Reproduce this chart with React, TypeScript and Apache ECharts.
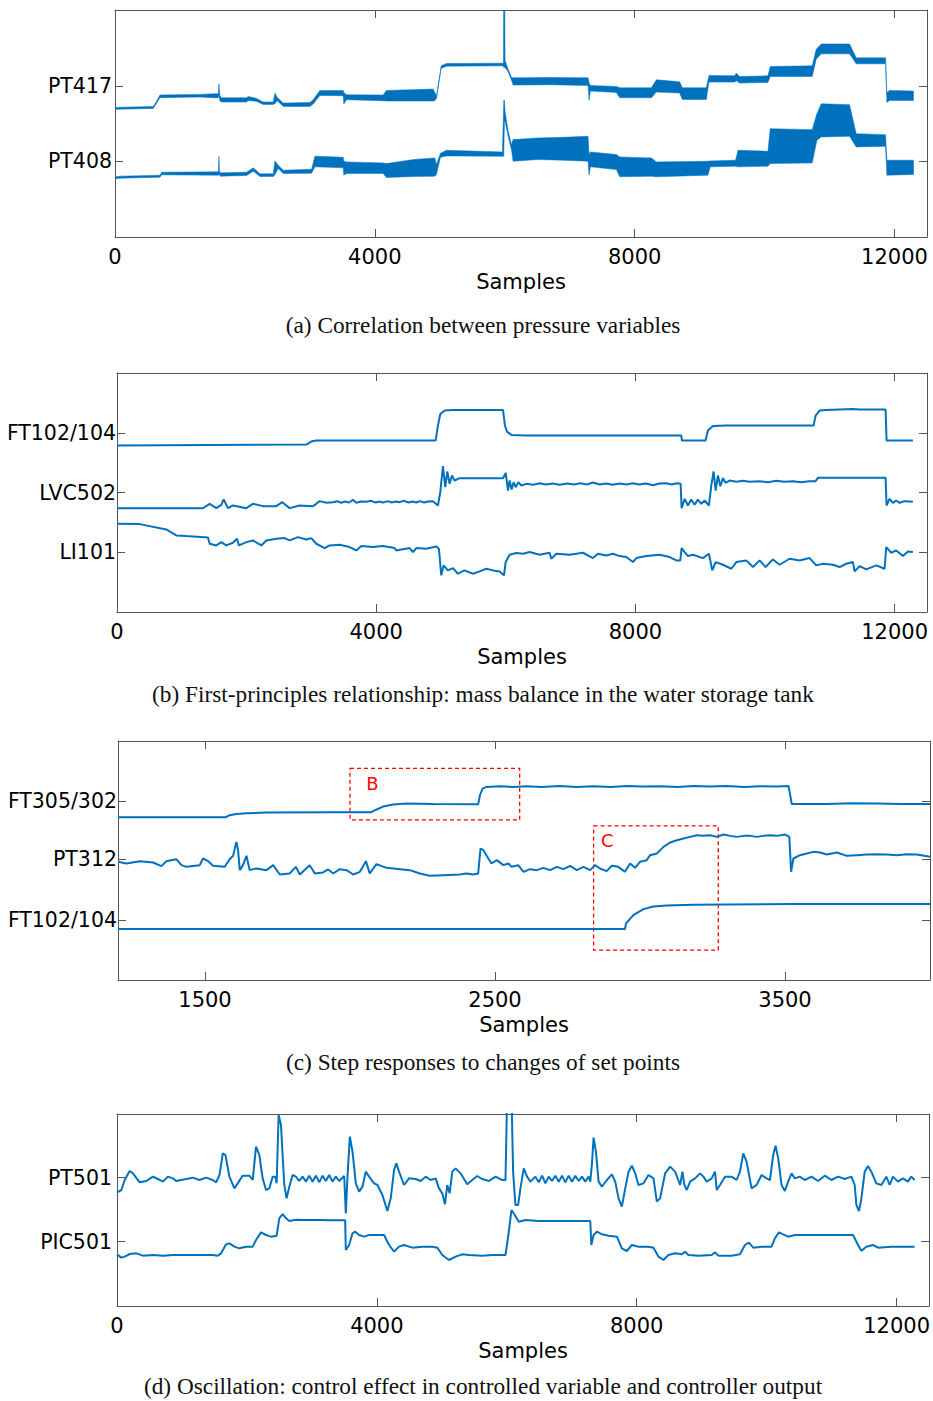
import React, { useEffect, useRef } from "react";
import * as echarts from "echarts";

// ---------------- data (x = sample index, y = signal level, arbitrary units) ----------------
const FULL_TICKS = [0, 4000, 8000, 12000];
const C_TICKS = [1500, 2500, 3500];

// Panel (a): noisy pressures as envelopes [sample, low, high] around each series' level
const A_NAMES = ["PT408", "PT417"];
const A_LEVELS = [0, 227];
const PT417_BAND = [
  [0, -71, -65], [590, -68, -62], [641, -52, -46], [692, -36, -28], [897, -35, -27], [1308, -34, -26],
  [1513, -36, -24], [1590, -36, -24], [1600, -30, 6], [1615, -45, -30], [1640, -49, -36], [2026, -49, -36],
  [2051, -44, -32], [2179, -47, -38], [2282, -56, -49], [2436, -56, -49], [2462, -54, -22], [2497, -45, -35],
  [2590, -62, -52], [3000, -62, -50], [3051, -55, -42], [3154, -29, -14], [3513, -30, -14], [3523, -55, -20],
  [3564, -42, -27], [4128, -45, -28], [4179, -46, -14], [4897, -46, -10], [4923, -45, -20], [4949, -38, -30],
  [5021, 52, 60], [5103, 59, 67], [5964, 60, 68], [5980, 58, 68], [5985, 55, 455], [5995, 55, 455],
  [6005, 55, 75], [6052, 42, 50], [6103, 17, 25], [6128, 2, 24], [6700, 3, 25], [7282, 1, 24],
  [7298, -44, 10], [7318, -16, 1], [7718, -20, -2], [7770, -36, -6], [8257, -36, -6], [8334, -19, 18],
  [8692, -22, 12], [8734, -41, -6], [9103, -41, -6], [9144, 11, 31], [9539, 11, 30], [9564, 15, 38],
  [9616, 8, 28], [10051, 10, 30], [10087, 28, 58], [10733, 28, 60], [10795, 80, 110], [10872, 96, 126],
  [11308, 96, 126], [11410, 66, 84], [11862, 66, 84], [11882, -50, -20], [11923, -44, -14], [12292, -44, -16],
];
const PT408_BAND = [
  [0, -53, -47], [77, -51, -45], [692, -48, -42], [718, -41, -33], [1564, -42, -32], [1592, -42, -32],
  [1600, -40, 15], [1608, -42, -30], [1626, -45, -35], [2026, -43, -33], [2128, -30, -20], [2231, -46, -38],
  [2436, -46, -38], [2462, -40, 1], [2513, -22, -12], [2590, -37, -27], [3026, -36, -24], [3077, -17, 15],
  [3513, -20, 12], [3523, -42, 0], [3564, -37, -2], [4128, -37, -5], [4179, -49, -7], [4600, -46, 5],
  [4923, -45, 10], [4949, -40, -10], [5010, 12, 24], [5103, 16, 33], [5964, 15, 28], [5985, 15, 183],
  [5995, 120, 183], [6005, 120, 150], [6052, 75, 90], [6103, 35, 50], [6128, 0, 65], [6500, 5, 70],
  [6900, 3, 72], [7282, 0, 75], [7298, -42, 20], [7318, -17, 28], [7718, -25, 20], [7770, -47, 13],
  [8257, -45, 10], [8334, -47, -2], [9128, -42, 0], [9164, -17, 1], [9554, -15, 3], [9590, -17, 33],
  [10051, -15, 30], [10087, -7, 98], [10733, -5, 95], [10805, 63, 143], [10872, 73, 173], [11308, 75, 170],
  [11410, 43, 83], [11862, 45, 80], [11882, -42, 3], [12292, -40, 3],
];

// Panel (b): mass balance
const B_NAMES = ["LI101", "LVC502", "FT102/104"];
const B_LEVELS = [0, 179, 357];
const B_FT102_104 = [
  [0, -37], [2921, -34], [2998, -25], [3075, -22], [4917, -22], [4953, 23], [4989, 58], [5056, 68],
  [5184, 70], [5957, 70], [5987, 23], [6018, 5], [6085, -5], [6317, -7], [7345, -7], [8708, -7],
  [8718, -22], [9083, -22], [9119, 8], [9197, 22], [9402, 23], [10750, 23], [10781, 53], [10843, 68],
  [10946, 70], [11357, 73], [11460, 71], [11861, 71], [11876, -22], [12282, -22],
];
const B_LVC502 = [
  [0, -47], [1327, -47], [1430, -34], [1533, -47], [1610, -37], [1646, -21], [1713, -47], [1790, -39],
  [1995, -47], [2098, -34], [2253, -41], [2458, -41], [2551, -29], [2664, -47], [2818, -39], [3024, -41],
  [3075, -34], [3127, -26], [3230, -31], [3333, -29], [3400, -26], [3460, -31], [3520, -27], [3580, -30],
  [3641, -22], [3693, -31], [3760, -27], [3847, -28], [3920, -25], [3990, -30], [4050, -27], [4104, -30],
  [4180, -26], [4240, -30], [4300, -27], [4361, -29], [4430, -25], [4500, -30], [4560, -27], [4620, -30],
  [4670, -26], [4740, -30], [4800, -27], [4876, -26], [4953, -39], [4989, 1], [5030, 79], [5066, 16],
  [5097, 63], [5133, 26], [5169, 51], [5210, 36], [5287, 43], [5957, 43], [5998, 59], [6034, 6],
  [6059, 36], [6090, 9], [6121, 31], [6152, 16], [6193, 31], [6239, 21], [6317, 26], [6420, 23],
  [6520, 28], [6620, 24], [6720, 27], [6831, 23], [6950, 27], [7050, 24], [7150, 28], [7250, 24],
  [7345, 30], [7450, 24], [7550, 27], [7650, 23], [7760, 27], [7860, 24], [7960, 28], [8060, 24],
  [8160, 27], [8271, 22], [8370, 27], [8477, 28], [8560, 24], [8640, 28], [8698, 26], [8713, -47],
  [8760, -19], [8811, -39], [8862, -21], [8914, -37], [8965, -21], [9017, -34], [9068, -24], [9135, -39],
  [9171, 21], [9207, 63], [9238, 6], [9274, 51], [9310, 19], [9351, 43], [9392, 29], [9454, 36],
  [9560, 32], [9660, 35], [9760, 32], [9917, 34], [10050, 31], [10170, 35], [10300, 32], [10431, 34],
  [10560, 31], [10680, 34], [10781, 34], [10817, 44], [11460, 44], [11861, 44], [11876, -39], [11922, -19],
  [11974, -31], [12025, -24], [12077, -31], [12154, -26], [12282, -28],
];
const B_LI101 = [
  [0, 85], [350, 84], [761, 68], [915, 50], [1070, 48], [1404, 44], [1430, 25], [1533, 20], [1610, 30],
  [1687, 20], [1790, 28], [1851, 40], [1882, 20], [1995, 30], [2098, 35], [2227, 20], [2304, 35], [2458, 40],
  [2587, 42], [2664, 35], [2793, 45], [2921, 38], [2998, 42], [3075, 25], [3204, 12], [3281, 20], [3436, 22],
  [3590, 15], [3693, 5], [3770, 18], [3950, 15], [4104, 18], [4284, 12], [4310, 5], [4515, 12], [4567, 0],
  [4618, 12], [4773, 10], [4927, 17], [4968, 10], [5004, -70], [5040, -40], [5107, -55], [5184, -48],
  [5261, -65], [5364, -55], [5493, -65], [5597, -58], [5699, -50], [5802, -55], [5905, -58], [5972, -70],
  [5998, -30], [6059, -8], [6162, -3], [6265, -5], [6368, 0], [6522, -8], [6677, -2], [6702, -20], [6780, -5],
  [6985, -8], [7191, -2], [7345, -18], [7422, -5], [7551, -10], [7654, -5], [7757, -12], [7860, -15],
  [7962, -30], [8014, -18], [8168, -12], [8374, -8], [8528, -15], [8631, -25], [8693, -25], [8713, 12],
  [8760, 0], [8811, -12], [8888, -8], [9042, -18], [9135, -5], [9186, -55], [9238, -30], [9351, -38],
  [9480, -50], [9557, -30], [9711, -25], [9814, -45], [9917, -25], [10009, -45], [10122, -22], [10225, -38],
  [10379, -20], [10534, -25], [10688, -18], [10791, -40], [10894, -35], [11048, -38], [11151, -45],
  [11254, -35], [11357, -30], [11383, -58], [11460, -42], [11563, -52], [11717, -40], [11845, -50],
  [11871, 15], [11948, -2], [12025, 5], [12128, -12], [12206, 2], [12282, 0],
];

// Panel (c): step responses
const C_NAMES = ["FT102/104", "PT312", "FT305/302"];
const C_LEVELS = [0, 183, 358];
const C_FT305_302 = [
  [1200, -49], [1572, -49], [1585, -43], [1608, -39], [1643, -37], [1712, -35], [1942, -34], [2074, -34],
  [2086, -28], [2114, -17], [2149, -11], [2195, -8], [2287, -9], [2442, -10], [2448, 17], [2457, 37],
  [2471, 42], [2517, 44], [2560, 42], [2609, 44], [2660, 42], [2724, 45], [2780, 42], [2839, 44],
  [2900, 42], [2954, 45], [3010, 43], [3069, 44], [3130, 42], [3184, 45], [3240, 43], [3299, 45],
  [3360, 42], [3414, 44], [3470, 43], [3512, 45], [3518, 17], [3523, -9], [3644, -9], [3730, -7],
  [3817, -8], [3900, -9], [4000, -9],
];
const C_PT312 = [
  [1200, -8], [1229, -13], [1275, -6], [1321, -10], [1350, -21], [1367, -6], [1401, 0], [1419, -18],
  [1436, -23], [1482, -18], [1493, 2], [1511, -6], [1528, -20], [1568, -23], [1585, 0], [1597, 10],
  [1608, 52], [1614, 27], [1620, -33], [1631, -18], [1643, 10], [1654, -33], [1677, -28], [1712, -33],
  [1735, -18], [1758, -46], [1792, -43], [1813, -23], [1827, -46], [1861, -18], [1879, -43], [1907, -40],
  [1925, -31], [1942, -43], [1965, -30], [1988, -33], [2011, -46], [2034, -38], [2055, -6], [2068, -43],
  [2091, -15], [2126, -26], [2172, -30], [2206, -33], [2241, -43], [2275, -50], [2321, -48], [2379, -46],
  [2402, -43], [2425, -46], [2442, -43], [2450, 32], [2460, 27], [2477, 2], [2488, -13], [2506, -3],
  [2529, -18], [2546, -13], [2557, -23], [2580, -18], [2598, -38], [2621, -30], [2644, -33], [2667, -26],
  [2690, -33], [2713, -23], [2736, -30], [2759, -20], [2782, -33], [2805, -23], [2828, -33], [2845, -18],
  [2862, -28], [2885, -36], [2902, -20], [2925, -23], [2948, -38], [2966, -13], [2983, -26], [3000, -8],
  [3023, -3], [3035, 12], [3058, 17], [3081, 37], [3104, 50], [3127, 57], [3150, 62], [3173, 67],
  [3196, 72], [3219, 70], [3242, 72], [3265, 67], [3288, 74], [3311, 70], [3334, 67], [3357, 70],
  [3380, 70], [3403, 67], [3426, 70], [3449, 72], [3472, 70], [3500, 74], [3515, 67], [3521, -38],
  [3529, 2], [3552, 12], [3575, 17], [3598, 22], [3621, 20], [3644, 14], [3679, 20], [3713, 10],
  [3748, 12], [3782, 14], [3817, 15], [3851, 14], [3886, 12], [3920, 15], [3955, 14], [4000, 7],
];
const C_FT102_104 = [
  [1200, -27], [2948, -27], [2952, -10], [2977, 15], [3012, 33], [3046, 41], [3092, 44], [3184, 46],
  [3529, 48], [4000, 48],
];
const C_BOX_NAMES = ["B", "C"];
const C_BOX_X = [[2000, 2585], [2840, 3270]];
const C_BOX_Y = [[301, 456], [-90, 283]];

// Panel (d): oscillation
const D_NAMES = ["PIC501", "PT501"];
const D_LEVELS = [0, 192];
const D_PT501 = [
  [0, -44], [67, -37], [118, -7], [195, 20], [246, 13], [348, -14], [451, -10], [553, 3], [630, -4],
  [707, -12], [783, 3], [860, -2], [911, -10], [1065, -4], [1167, 0], [1270, -7], [1372, 0], [1474, -7],
  [1526, -14], [1577, 8], [1602, 38], [1628, 73], [1669, 68], [1730, 3], [1807, -32], [1858, -17],
  [1935, 6], [2038, 6], [2089, -7], [2140, 93], [2191, 68], [2242, -2], [2294, -37], [2345, -32],
  [2396, 3], [2437, 3], [2457, -17], [2488, 188], [2524, 158], [2575, -22], [2611, -62], [2652, -27],
  [2703, 8], [2754, 3], [2805, -10], [2857, 3], [2908, -12], [2959, 6], [3010, -12], [3061, 6],
  [3113, -14], [3164, 6], [3215, -10], [3266, 8], [3317, -12], [3369, 3], [3420, -10], [3497, 5],
  [3522, -107], [3548, 3], [3584, 123], [3625, 78], [3676, -17], [3727, -42], [3778, -27], [3829, 18],
  [3881, 3], [3957, -17], [4009, -22], [4085, -52], [4162, -100], [4213, -62], [4265, 23], [4300, 43],
  [4341, 18], [4418, -22], [4495, -2], [4597, -4], [4674, -10], [4751, 3], [4828, -7], [4905, -2],
  [4956, -32], [5007, -47], [5048, -80], [5084, -22], [5120, -47], [5161, 18], [5212, 28], [5288, 13],
  [5391, -20], [5468, -7], [5545, 5], [5621, -4], [5724, -10], [5826, 3], [5929, -7], [5980, -7],
  [6005, 250], [6072, 250], [6097, 18], [6133, -82], [6174, -82], [6210, -32], [6261, 28], [6312, 3],
  [6364, -12], [6440, 3], [6492, -14], [6543, 6], [6594, -17], [6645, 3], [6696, -10], [6748, 6],
  [6799, -12], [6850, 6], [6901, -14], [6952, 6], [7004, -12], [7055, 6], [7106, -10], [7157, 3],
  [7208, -12], [7260, 3], [7285, -12], [7311, 43], [7336, 120], [7372, 78], [7413, -12], [7464, -27],
  [7541, -7], [7618, 10], [7669, -12], [7720, -62], [7771, -87], [7823, -32], [7874, 18], [7925, 36],
  [7976, 13], [8027, -22], [8104, -17], [8181, 8], [8258, -2], [8309, -72], [8360, -62], [8437, 13],
  [8514, 33], [8591, 18], [8668, -22], [8703, 18], [8734, -22], [8770, -37], [8821, -12], [8898, -2],
  [8975, 13], [9026, 3], [9077, -12], [9154, -2], [9205, 18], [9231, -37], [9282, -22], [9359, 3],
  [9461, 3], [9538, -7], [9589, 18], [9640, 73], [9691, 48], [9768, -32], [9845, -22], [9922, 8],
  [9998, -2], [10050, -7], [10101, 68], [10137, 96], [10178, 58], [10229, -22], [10280, -40], [10331, -12],
  [10383, 13], [10434, -2], [10510, 3], [10587, -7], [10690, 3], [10792, -10], [10894, 6], [10997, -7],
  [11099, 3], [11201, -4], [11304, 3], [11355, -22], [11381, -82], [11422, -100], [11458, -62], [11509, 18],
  [11560, 35], [11611, 18], [11688, -17], [11765, -22], [11842, 3], [11893, -22], [11944, 3], [12021, -12],
  [12098, -2], [12174, -12], [12226, 3], [12277, -7],
];
const D_PIC501 = [
  [0, -38], [67, -48], [118, -45], [195, -37], [297, -35], [399, -42], [553, -40], [707, -42], [860, -40],
  [1270, -40], [1474, -40], [1551, -42], [1602, -35], [1679, -8], [1730, -5], [1807, -15], [1884, -20],
  [1986, -15], [2089, -15], [2140, 5], [2217, 28], [2294, 20], [2370, 15], [2457, 18], [2498, 70],
  [2550, 83], [2601, 70], [2652, 62], [2754, 66], [2908, 65], [3113, 65], [3317, 64], [3512, 64],
  [3522, -25], [3573, -10], [3625, 25], [3666, 30], [3727, 20], [3804, 15], [3881, 20], [4111, 20],
  [4188, -10], [4265, -30], [4341, -15], [4418, -10], [4546, -18], [4700, -15], [4853, -15], [4930, -18],
  [5007, -40], [5109, -55], [5212, -45], [5314, -38], [5416, -40], [5621, -42], [5775, -40], [5980, -40],
  [6031, 30], [6072, 95], [6123, 80], [6184, 60], [6287, 65], [6492, 62], [6799, 62], [7055, 62],
  [7285, 62], [7301, -10], [7336, 20], [7388, 30], [7464, 22], [7567, 18], [7695, 15], [7771, -20],
  [7848, -28], [7925, -10], [8027, -15], [8181, -15], [8258, -18], [8335, -45], [8411, -55], [8488, -40],
  [8591, -35], [8693, -38], [8744, -30], [8795, -40], [8949, -42], [9154, -40], [9205, -32], [9256, -42],
  [9461, -42], [9589, -38], [9666, -10], [9727, -3], [9794, -18], [9922, -15], [10075, -15], [10126, 10],
  [10188, 28], [10255, 22], [10331, 15], [10434, 20], [10894, 20], [11330, 20], [11406, -10], [11458, -27],
  [11535, -15], [11637, -10], [11714, -18], [11918, -15], [12123, -15], [12277, -15],
];

const CAPTIONS = [
  "(a)\u00a0Correlation between pressure variables",
  "(b)\u00a0First-principles relationship: mass balance in the water storage tank",
  "(c)\u00a0Step responses to changes of set points",
  "(d)\u00a0Oscillation: control effect in controlled variable and controller output",
];

// ---------------- styling / layout ----------------
const BLUE = "#0072BD";
const FRAME = "#555555";
const SANS = '"DejaVu Sans", sans-serif';
const SERIF = '"Liberation Serif", serif';

const PANELS = [
  { grid: { left: 115, top: 10, width: 812, height: 227 }, xMin: 0, xMax: 12500, xTicks: FULL_TICKS, yMin: -228, yMax: 455, names: A_NAMES, levels: A_LEVELS, labelMargin: 3, captionY: 325 },
  { grid: { left: 117, top: 373, width: 810, height: 239 }, xMin: 0, xMax: 12500, xTicks: FULL_TICKS, yMin: -180, yMax: 538, names: B_NAMES, levels: B_LEVELS, labelMargin: 1, captionY: 694 },
  { grid: { left: 118, top: 741, width: 812, height: 239 }, xMin: 1200, xMax: 4000, xTicks: C_TICKS, yMin: -180, yMax: 538, names: C_NAMES, levels: C_LEVELS, labelMargin: 1, captionY: 1062 },
  { grid: { left: 117, top: 1114, width: 814, height: 192 }, xMin: 0, xMax: 12500, xTicks: FULL_TICKS, yMin: -193, yMax: 383, names: D_NAMES, levels: D_LEVELS, labelMargin: 5, captionY: 1386 },
];

function bandSeries(band: number[][], level: number, idx: number) {
  return {
    type: "custom",
    xAxisIndex: 2 * idx,
    yAxisIndex: 2 * idx,
    silent: true,
    clip: true,
    data: [[band[0][0], band[0][1] + level]],
    renderItem: (_params: any, api: any) => {
      const upper = band.map((b) => api.coord([b[0], b[2] + level]));
      const lower = band.slice().reverse().map((b) => api.coord([b[0], b[1] + level]));
      return {
        type: "polygon",
        shape: { points: upper.concat(lower) },
        style: { fill: BLUE, stroke: BLUE, lineWidth: 0.5 },
      };
    },
  };
}

function lineSeries(data: number[][], level: number, idx: number, extra: any = {}) {
  return {
    type: "line",
    xAxisIndex: 2 * idx,
    yAxisIndex: 2 * idx,
    data: data.map((d) => [d[0], d[1] + level]),
    showSymbol: false,
    symbol: "none",
    silent: true,
    clip: true,
    lineStyle: { color: BLUE, width: 2 },
    ...extra,
  };
}

function buildOption() {
  const xAxis: any[] = [];
  const yAxis: any[] = [];
  PANELS.forEach((p, i) => {
    const line = { show: true, onZero: false, lineStyle: { color: FRAME, width: 1 } };
    const xTick = { show: true, inside: true, length: 8, customValues: p.xTicks, lineStyle: { color: FRAME, width: 1 } };
    const yTick = { show: true, inside: true, length: 8, customValues: p.levels, lineStyle: { color: FRAME, width: 1 } };
    xAxis.push({
      type: "value", gridIndex: i, min: p.xMin, max: p.xMax, position: "bottom",
      axisLine: line, axisTick: xTick, splitLine: { show: false },
      axisLabel: {
        show: true, customValues: p.xTicks, margin: 9, fontSize: 21, color: "#000", fontFamily: SANS,
        formatter: (v: number) => String(Math.round(v)),
      },
      name: "Samples", nameLocation: "middle", nameGap: 34,
      nameTextStyle: { fontSize: 21, color: "#000", fontFamily: SANS },
    });
    xAxis.push({
      type: "value", gridIndex: i, min: p.xMin, max: p.xMax, position: "top",
      axisLine: line, axisTick: xTick, splitLine: { show: false }, axisLabel: { show: false },
    });
    yAxis.push({
      type: "value", gridIndex: i, min: p.yMin, max: p.yMax, position: "left",
      axisLine: line, axisTick: yTick, splitLine: { show: false },
      axisLabel: {
        show: true, customValues: p.levels, margin: p.labelMargin, fontSize: 20.5, color: "#000", fontFamily: SANS,
        formatter: (v: number) => {
          const k = p.levels.indexOf(v);
          return k >= 0 ? p.names[k] : "";
        },
      },
    });
    yAxis.push({
      type: "value", gridIndex: i, min: p.yMin, max: p.yMax, position: "right",
      axisLine: line, axisTick: yTick, splitLine: { show: false }, axisLabel: { show: false },
    });
  });

  const series: any[] = [
    bandSeries(PT417_BAND, A_LEVELS[1], 0),
    bandSeries(PT408_BAND, A_LEVELS[0], 0),
    lineSeries(B_FT102_104, B_LEVELS[2], 1),
    lineSeries(B_LVC502, B_LEVELS[1], 1),
    lineSeries(B_LI101, B_LEVELS[0], 1),
    lineSeries(C_FT305_302, C_LEVELS[2], 2, {
      markArea: {
        silent: true,
        itemStyle: { color: "rgba(0,0,0,0)", borderColor: "#FF0000", borderWidth: 1.3, borderType: [4, 3] },
        label: { show: true, color: "#FF0000", fontSize: 18, fontFamily: SANS },
        data: C_BOX_NAMES.map((nm, k) => [
          { name: nm, xAxis: C_BOX_X[k][0], yAxis: C_BOX_Y[k][1], label: { position: k === 0 ? [17, 7] : [8, 6] } },
          { xAxis: C_BOX_X[k][1], yAxis: C_BOX_Y[k][0] },
        ]),
      },
    }),
    lineSeries(C_PT312, C_LEVELS[1], 2),
    lineSeries(C_FT102_104, C_LEVELS[0], 2),
    lineSeries(D_PT501, D_LEVELS[1], 3),
    lineSeries(D_PIC501, D_LEVELS[0], 3),
  ];

  const graphic = PANELS.map((p, i) => ({
    type: "text",
    x: 483,
    y: p.captionY,
    silent: true,
    style: {
      text: CAPTIONS[i], fontSize: 23.3, fontFamily: SERIF, fill: "#111",
      align: "center", verticalAlign: "middle",
    },
  }));

  return {
    animation: false,
    backgroundColor: "#ffffff",
    textStyle: { fontFamily: SANS },
    grid: PANELS.map((p) => ({ ...p.grid, containLabel: false })),
    xAxis,
    yAxis,
    series,
    graphic,
  };
}

export default function App() {
  const ref = useRef<HTMLDivElement>(null);
  useEffect(() => {
    if (!ref.current) return;
    const chart = echarts.init(ref.current, null, { renderer: "svg" });
    chart.setOption(buildOption() as any);
    return () => chart.dispose();
  }, []);
  return (
    <div
      ref={ref}
      style={{ position: "absolute", left: 0, top: 0, width: 933, height: 1401, background: "#fff" }}
    />
  );
}
